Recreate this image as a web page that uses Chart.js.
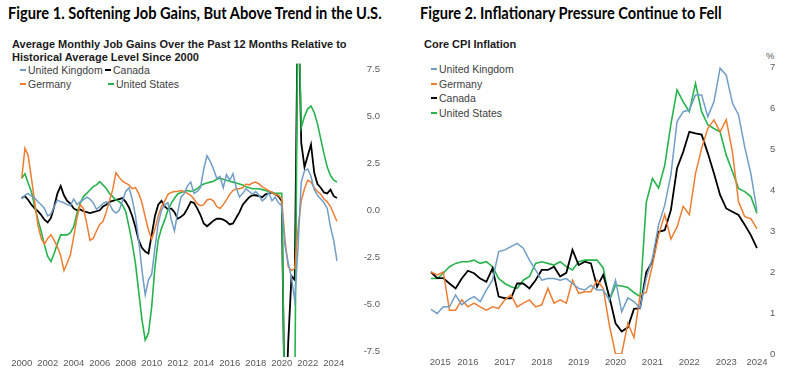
<!DOCTYPE html>
<html><head><meta charset="utf-8">
<script src="https://cdn.jsdelivr.net/npm/chart.js@4/dist/chart.umd.min.js"></script>
<style>
html,body{margin:0;padding:0;background:#fff;}
body{width:791px;height:380px;position:relative;overflow:hidden;font-family:'Liberation Sans',Arial,sans-serif;}
.t{position:absolute;white-space:nowrap;}
.fig{font-family:Lato,'Open Sans',sans-serif;font-weight:bold;font-size:17px;line-height:18px;color:#000;transform-origin:0 50%;}
.sub{font-weight:bold;font-size:11px;line-height:13px;color:#1a1a1a;}
.lg{font-size:10.5px;line-height:12px;color:#404040;}
.lg i{display:inline-block;width:6px;height:2px;vertical-align:middle;margin-right:2px;position:relative;top:-1px;}
.pct{font-size:9.5px;line-height:11px;color:#595959;}
canvas{position:absolute;}
</style></head>
<body>
<div class="t fig" id="t1" style="left:8px;top:4px;">Figure 1. Softening Job Gains, But Above Trend in the U.S.</div>
<div class="t fig" id="t2" style="left:420px;top:4px;">Figure 2. Inflationary Pressure Continue to Fell</div>
<div class="t sub" id="s1a" style="left:12px;top:37.5px;">Average Monthly Job Gains Over the Past 12 Months Relative to</div>
<div class="t sub" id="s1b" style="left:12px;top:50.5px;">Historical Average Level Since 2000</div>
<div class="t sub" id="s2" style="left:424px;top:37.5px;">Core CPI Inflation</div>
<div id="legL"></div>
<div id="legR"></div>
<div class="t pct" style="left:766px;top:49.5px;">%</div>
<canvas id="cL" width="380" height="325" style="left:0;top:55px;"></canvas>
<canvas id="cR" width="391" height="340" style="left:400px;top:40px;"></canvas>
<script>
// ---------- Figure 1: quarterly, 2000Q1 .. 2024Q2 ----------
const leftSeriesNames = ['United Kingdom', 'Germany', 'Canada', 'United States'];
const leftYearTicks = ['2000','2002','2004','2006','2008','2010','2012','2014','2016','2018','2020','2022','2024'];
const quarters = [];
for (let y = 2000; y <= 2024; y++) for (let q = 1; q <= 4; q++) if (quarters.length < 98) quarters.push(y + 'Q' + q);

const ukJobs = [0.6,0.8,0.9,0.75,0.65,0.45,0.3,0.1,-0.3,-0.2,0.2,0.55,0.45,0.4,0.3,0.25,0.6,0.3,0.45,0.55,
  0.7,0.6,0.4,0.05,0.2,0.35,0.45,0.35,0.0,-0.15,0.0,0.5,1.0,1.2,0.6,-0.3,-1.6,-3.2,-4.5,-3.7,
  -3.4,-2.0,-0.7,0.0,0.3,0.4,-0.5,-1.1,-0.1,0.7,0.9,1.3,1.5,0.9,1.0,1.2,2.2,2.9,2.6,2.2,
  1.7,1.8,1.2,1.9,1.6,1.95,1.2,0.7,0.9,1.15,1.0,0.85,1.0,0.8,0.5,0.65,0.95,0.5,0.7,0.4,
  0.25,-1.9,-2.8,-3.6,-4.8,-2.0,1.5,2.1,2.2,1.8,1.1,0.8,0.6,0.4,0.1,-0.9,-1.6,-2.7];
const deJobs = [1.7,3.3,2.9,1.7,0.45,-0.8,-1.5,-1.8,-1.5,-1.3,-1.6,-1.95,-2.4,-3.2,-2.8,-2.35,-1.4,-0.4,0.3,0.1,
  -0.7,-1.6,-1.5,-1.1,-0.75,-0.6,-0.1,0.5,1.1,2.0,1.75,1.55,1.45,1.35,1.15,1.2,0.9,0.4,-0.35,-1.05,
  -1.55,-1.0,-0.3,0.2,0.5,0.85,0.95,1.0,1.0,1.05,1.0,0.9,0.8,0.6,0.35,0.25,0.3,0.55,0.6,0.5,
  0.2,0.1,0.3,0.55,0.85,1.05,1.15,1.15,1.2,1.4,1.35,1.45,1.5,1.4,1.25,1.15,1.05,0.95,0.85,0.8,
  0.6,-1.6,-3.0,-3.2,-3.1,-1.0,0.5,1.15,1.6,1.5,1.2,1.0,0.85,0.6,0.45,0.2,-0.2,-0.6];
const caJobs = [0.65,0.75,0.55,0.3,0.1,-0.05,-0.25,-0.5,-0.65,-0.4,0.2,0.9,1.3,0.8,0.5,0.35,0.1,0.0,0.05,-0.05,
  -0.1,-0.15,-0.1,-0.05,0.0,0.2,0.3,0.45,0.5,0.55,0.6,0.65,0.45,0.15,-0.3,-0.9,-1.6,-2.0,-2.2,-2.3,
  -1.3,-0.3,0.3,0.5,0.2,0.05,0.1,-0.1,-0.45,-0.35,-0.2,0.1,0.45,0.4,0.1,-0.25,-0.7,-0.85,-0.7,-0.55,
  -0.45,-0.45,-0.5,-0.6,-0.75,-0.7,-0.4,-0.1,0.3,0.5,0.7,0.8,0.8,0.75,0.7,0.85,0.9,0.95,0.85,0.75,
  0.5,-12,-7.0,-3.5,-3.7,12,3.6,2.3,2.9,3.5,2.0,1.4,1.2,0.95,0.9,1.1,0.75,0.65];
const usJobs = [1.7,1.95,1.44,0.99,0.2,-0.51,-1.13,-1.84,-2.46,-2.73,-2.29,-1.76,-1.31,-1.31,-1.31,-1.19,-0.87,-0.16,0.37,0.73,
  0.9,1.08,1.26,1.35,1.52,1.35,1.17,0.9,0.73,0.55,0.46,0.28,-0.07,-0.87,-1.76,-2.82,-4.33,-5.83,-6.9,-6.54,
  -5.12,-3.0,-1.58,-0.96,-0.51,0.02,0.37,0.64,0.87,0.95,1.0,1.05,1.0,1.05,1.15,1.3,1.4,1.45,1.5,1.55,
  1.65,1.7,1.65,1.6,1.55,1.5,1.45,1.4,1.35,1.25,1.2,1.15,1.15,1.15,1.1,1.05,1.0,0.95,0.9,0.9,
  0.9,-12,-12,-11,-10,12,4.4,5.0,5.4,5.55,5.2,4.6,3.8,3.0,2.3,1.85,1.6,1.5];

// ---------- Figure 2: every other month, Jul 2015 .. May 2024 ----------
const rightYearTicks = ['2015','2016','2017','2018','2019','2020','2021','2022','2023','2024'];
const monthNames = ['Jan','Feb','Mar','Apr','May','Jun','Jul','Aug','Sep','Oct','Nov','Dec'];
const months = [];
for (let m = 6; months.length < 54; m += 2) months.push(monthNames[m % 12] + ' ' + (2015 + Math.floor(m / 12)));

const ukCPI = [1.09,0.99,1.15,1.15,1.44,1.2,1.32,1.4,1.28,1.56,1.8,2.5,2.54,2.62,2.7,2.58,2.29,2.05,1.8,1.84,
  1.84,1.8,1.84,1.72,1.6,1.56,1.68,1.56,1.56,1.32,1.8,1.03,1.37,1.28,1.12,1.85,2.34,3.15,3.63,4.37,
  5.67,5.91,5.95,6.32,6.32,5.79,6.15,6.97,6.8,6.12,5.83,5.05,4.4,3.5];
const deCPI = [2.0,1.93,2.0,1.07,1.07,1.32,1.15,1.24,1.15,1.07,1.15,1.11,1.32,1.44,1.15,1.24,1.32,1.15,1.2,1.6,
  1.24,1.32,1.24,1.8,1.48,1.52,1.52,1.8,1.6,0.7,0.0,0.0,0.75,0.4,1.45,1.5,2.17,2.9,3.4,2.8,
  3.1,3.6,3.4,4.4,5.02,5.5,5.71,5.42,5.71,4.93,3.71,3.35,3.3,3.05];
const caCPI = [2.0,1.85,1.85,1.72,1.6,1.84,2.03,1.97,1.84,1.76,2.09,1.4,1.36,1.36,1.72,1.72,1.6,1.8,2.05,2.05,
  2.13,1.89,1.98,2.54,2.17,2.25,2.21,1.64,1.93,1.4,0.75,0.55,0.65,1.1,1.12,2.0,2.25,2.98,3.02,3.51,
  4.53,4.93,5.42,5.38,5.35,4.9,4.41,3.88,3.55,3.47,3.39,3.15,2.9,2.58];
const usCPI = [1.84,1.84,1.97,2.13,2.21,2.25,2.25,2.29,2.21,2.25,2.13,1.84,1.72,1.64,1.6,1.8,1.89,2.21,2.25,2.21,
  2.17,2.25,2.13,2.05,2.25,2.29,2.29,2.29,2.1,1.3,1.68,1.66,1.62,1.5,1.4,3.7,4.28,4.05,4.6,5.6,
  6.44,6.15,5.91,6.6,5.91,5.59,5.5,5.42,4.85,4.45,4.04,3.96,3.84,3.43];

const COLORS = {uk:'#6f9dc6', de:'#ee7d31', ca:'#000000', us:'#25b34b'};
const TICK_FONT = {family:"'Liberation Sans', Arial, sans-serif", size:9.5};
const TICK_COLOR = '#595959';

// ---------- legends (HTML) ----------
function legItem(parent, left, cy, color, text) {
  const d = document.createElement('div');
  d.className = 't lg';
  d.style.left = left + 'px';
  d.style.top = (cy - 6) + 'px';
  d.innerHTML = '<i style="background:' + color + '"></i>' + text;
  parent.appendChild(d);
}
const legL = document.getElementById('legL');
legItem(legL, 20, 70, COLORS.uk, 'United Kingdom');
legItem(legL, 105, 70, COLORS.ca, 'Canada');
legItem(legL, 20, 84, COLORS.de, 'Germany');
legItem(legL, 108, 84, COLORS.us, 'United States');
const legR = document.getElementById('legR');
legItem(legR, 431, 69, COLORS.uk, 'United Kingdom');
legItem(legR, 431, 83.5, COLORS.de, 'Germany');
legItem(legR, 431, 98, COLORS.ca, 'Canada');
legItem(legR, 431, 112.5, COLORS.us, 'United States');

// ---------- text fitting ----------
function squashTo(el, w, minScale) {
  let s = w / el.scrollWidth;
  if (s < minScale) {
    const fs = parseFloat(getComputedStyle(el).fontSize) * s / minScale;
    el.style.fontSize = fs + 'px';
    s = w / el.scrollWidth;
  }
  el.style.transform = 'scaleX(' + s + ')';
}
function sizeTo(el, w) {
  const fs = parseFloat(getComputedStyle(el).fontSize) * w / el.scrollWidth;
  el.style.fontSize = fs + 'px';
  return fs;
}
squashTo(document.getElementById('t1'), 374, 0.86);
squashTo(document.getElementById('t2'), 302, 0.86);
const fsSub = sizeTo(document.getElementById('s1a'), 335);
document.getElementById('s1b').style.fontSize = fsSub + 'px';
document.getElementById('s2').style.fontSize = fsSub + 'px';

function ds(label, data, color, w) {
  return {label, data, borderColor: color, backgroundColor: color, borderWidth: w,
          pointRadius: 0, tension: 0, fill: false};
}

// ---------- Figure 1 chart ----------
new Chart(document.getElementById('cL'), {
  type: 'line',
  data: {
    labels: quarters,
    datasets: [
      ds(leftSeriesNames[0], ukJobs, COLORS.uk, 1.5),
      ds(leftSeriesNames[1], deJobs, COLORS.de, 1.5),
      ds(leftSeriesNames[3], usJobs, COLORS.us, 1.6),
      ds(leftSeriesNames[2], caJobs, COLORS.ca, 1.8)
    ]
  },
  options: {
    responsive: false, animation: false, devicePixelRatio: 1,
    layout: {padding: {left: 21.7, top: 8.7, right: 0, bottom: 0}},
    plugins: {legend: {display: false}, tooltip: {enabled: false}},
    scales: {
      x: {
        grid: {display: false, drawTicks: false}, border: {display: false},
        afterBuildTicks: s => { s.ticks = leftYearTicks.map(y => ({value: quarters.indexOf(y + 'Q1')})); },
        afterFit: s => { s.height = 23.1; },
        ticks: {autoSkip: false, maxRotation: 0, padding: 1, color: TICK_COLOR, font: TICK_FONT,
                callback: (v, i) => leftYearTicks[i]}
      },
      y: {
        position: 'right', min: -7.8, max: 7.8,
        grid: {display: false, drawTicks: false}, border: {display: false},
        afterFit: s => { s.width = 43; },
        ticks: {stepSize: 2.5, includeBounds: false, crossAlign: 'far', padding: -4,
                color: TICK_COLOR, font: TICK_FONT, callback: v => Number(v).toFixed(1)}
      }
    }
  }
});

// ---------- Figure 2 chart ----------
const rightTickPos = rightYearTicks.map((y, i) =>
  i === 0 ? 1.5 : (i === rightYearTicks.length - 1 ? months.length - 1 : months.indexOf('Jul ' + y)));
new Chart(document.getElementById('cR'), {
  type: 'line',
  data: {
    labels: months,
    datasets: [
      ds('United Kingdom', ukCPI, COLORS.uk, 1.5),
      ds('Germany', deCPI, COLORS.de, 1.5),
      ds('Canada', caCPI, COLORS.ca, 1.8),
      ds('United States', usCPI, COLORS.us, 1.6)
    ]
  },
  options: {
    responsive: false, animation: false, devicePixelRatio: 1,
    layout: {padding: {left: 31, top: 18.8, right: 0, bottom: 0}},
    plugins: {legend: {display: false}, tooltip: {enabled: false}},
    scales: {
      x: {
        grid: {display: false, drawTicks: false}, border: {display: false},
        afterBuildTicks: s => { s.ticks = rightTickPos.map(v => ({value: v})); },
        afterFit: s => { s.height = 26; },
        ticks: {autoSkip: false, maxRotation: 0, padding: 3, color: TICK_COLOR, font: TICK_FONT,
                callback: (v, i) => rightYearTicks[i]}
      },
      y: {
        position: 'right', min: 0, max: 7.2,
        grid: {display: false, drawTicks: false}, border: {display: false},
        afterFit: s => { s.width = 34; },
        ticks: {stepSize: 1, includeBounds: false, crossAlign: 'near', padding: 13,
                color: TICK_COLOR, font: TICK_FONT, callback: v => String(v)}
      }
    }
  }
});
</script>
</body></html>
